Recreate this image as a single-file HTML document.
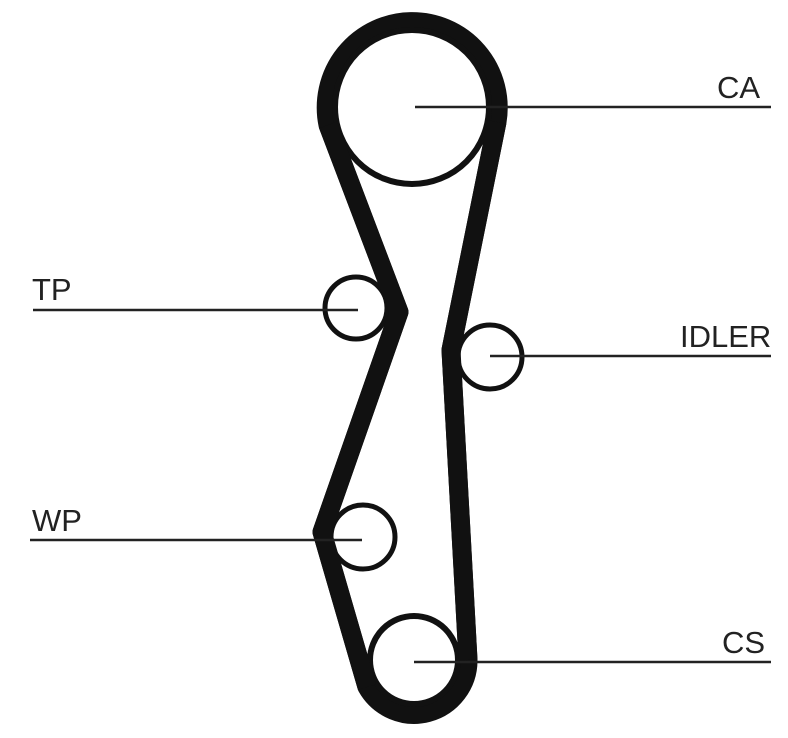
<!DOCTYPE html>
<html><head><style>
html,body{margin:0;padding:0;background:#fff;}
svg{display:block;}
text{font-family:"Liberation Sans",sans-serif;font-size:31px;fill:#222;}
</style></head><body>
<svg width="788" height="738" viewBox="0 0 788 738">
<path d="M497,122 L451,350 L468,660 A54,54 0 0 1 367,687 L322,532 L399,312 L328,125 A86,86 0 1 1 497,122 Z" fill="none" stroke="#111" stroke-width="19" stroke-linejoin="round"/>
<circle cx="412" cy="107" r="77" fill="none" stroke="#111" stroke-width="6"/>
<circle cx="414" cy="660" r="44" fill="none" stroke="#111" stroke-width="6"/>
<circle cx="356" cy="308" r="31" fill="#fff" stroke="#111" stroke-width="5"/>
<circle cx="490" cy="357" r="32" fill="#fff" stroke="#111" stroke-width="5"/>
<circle cx="363" cy="537" r="32" fill="#fff" stroke="#111" stroke-width="5"/>
<path d="M497,122 L451,350 L468,660" fill="none" stroke="#111" stroke-width="19" stroke-linejoin="round"/>
<path d="M328,125 L399,312 L322,532 L367,687" fill="none" stroke="#111" stroke-width="19" stroke-linejoin="round"/>
<g stroke="#222" stroke-width="2.5">
<line x1="415" y1="107" x2="771" y2="107"/>
<line x1="33" y1="310" x2="358" y2="310"/>
<line x1="490" y1="356" x2="771" y2="356"/>
<line x1="30" y1="540" x2="362" y2="540"/>
<line x1="414" y1="662" x2="771" y2="662"/>
</g>
<text x="717" y="98">CA</text>
<text x="32" y="300">TP</text>
<text x="680" y="347">IDLER</text>
<text x="32" y="531">WP</text>
<text x="722" y="653">CS</text>
</svg>
</body></html>
